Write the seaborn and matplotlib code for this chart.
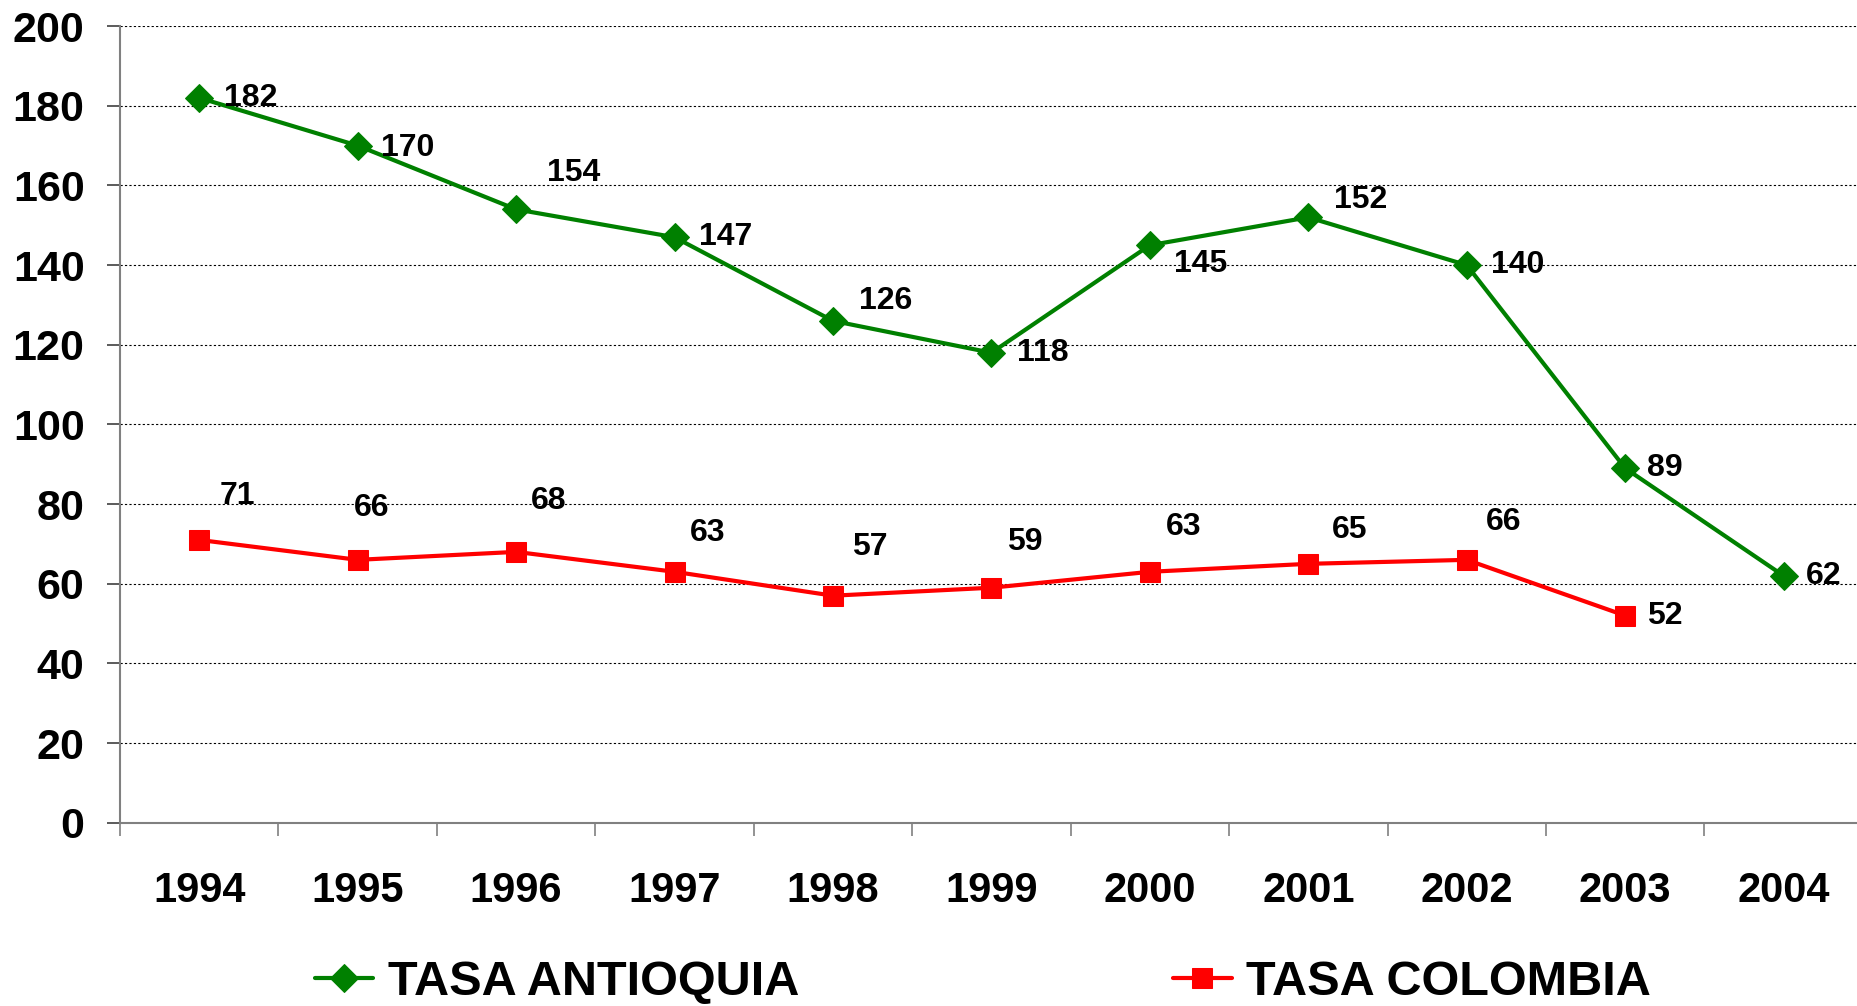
"""Tasa Antioquia vs tasa Colombia, 1994-2004."""

import numpy as np
import pandas as pd
import matplotlib
matplotlib.use('Agg')
import matplotlib.pyplot as plt
import seaborn as sns

years = ['1994', '1995', '1996', '1997', '1998', '1999', '2000', '2001', '2002', '2003', '2004']
tasa_antioquia = [182, 170, 154, 147, 126, 118, 145, 152, 140, 89, 62]
tasa_colombia = [71, 66, 68, 63, 57, 59, 63, 65, 66, 52]

# label offsets (pixels)
off_antioquia = [(51, 0), (50, -2), (58, 36), (51, 0), (53, 20), (51, 0),
                 (51, -19), (52, 17), (51, 0), (40, 0), (40, 0)]
off_colombia = [(38, 44), (14, 52), (33, 51), (33, 39), (37, 49), (33, 46),
                (34, 45), (41, 34), (37, 38), (40, 0)]


def main():
   sns.set_style('white')
   plt.rcParams['font.family'] = ['Liberation Sans', 'DejaVu Sans']
   plt.rcParams['font.weight'] = 'bold'
   plt.rcParams['text.color'] = 'black'
   plt.rcParams['xtick.labelcolor'] = 'black'
   plt.rcParams['ytick.labelcolor'] = 'black'

   fig = plt.figure(figsize=(18.58, 10.06), dpi=100)
   ax = fig.add_axes([0.0646, 0.1822, 0.938, 0.7918])

   df_a = pd.DataFrame({'x': np.arange(len(tasa_antioquia)), 'y': tasa_antioquia})
   df_c = pd.DataFrame({'x': np.arange(len(tasa_colombia)), 'y': tasa_colombia})

   sns.lineplot(data=df_a, x='x', y='y', ax=ax, color='#008000', lw=3,
                marker='D', markersize=14, markeredgecolor='#008000',
                label='TASA ANTIOQUIA')
   sns.lineplot(data=df_c, x='x', y='y', ax=ax, color='#FF0000', lw=3,
                marker='s', markersize=14, markeredgecolor='#FF0000',
                label='TASA COLOMBIA')

   for vals, offs in [(tasa_antioquia, off_antioquia), (tasa_colombia, off_colombia)]:
      for i, (v, o) in enumerate(zip(vals, offs)):
         ax.annotate(str(v), (i, v), xytext=o, textcoords='offset pixels',
                     ha='center', va='center', fontsize=23, fontweight='bold',
                     color='black')

   ax.set_xlim(-0.5, len(years) - 0.5)
   ax.set_ylim(0, 200)
   ax.set_yticks(range(0, 201, 20))
   ax.set_xticks(range(len(years)))
   ax.set_xticklabels(years)
   ax.set_xticks(np.arange(-0.5, len(years), 1), minor=True)
   ax.tick_params(axis='x', which='major', length=0, pad=34.5, labelsize=30)
   ax.tick_params(axis='x', which='minor', length=9.5, width=1.2,
                  color='#808080', direction='out', bottom=True)
   ax.tick_params(axis='y', length=9.5, width=1.2, color='#404040',
                  direction='out', left=True, pad=16, labelsize=31)
   for lab in ax.get_xticklabels() + ax.get_yticklabels():
      lab.set_fontweight('bold')

   ax.grid(axis='y', color='black', linestyle=(0, (2, 2)), lw=0.8)
   ax.grid(axis='x', visible=False)
   ax.set_xlabel('')
   ax.set_ylabel('')
   sns.despine(ax=ax)
   for s in ['left', 'bottom']:
      ax.spines[s].set_color('#808080')
      ax.spines[s].set_linewidth(1.5)

   handles, labels = ax.get_legend_handles_labels()
   ax.get_legend().remove()
   fig.legend(handles, labels, loc='center', bbox_to_anchor=(0.529, 0.023),
              ncol=2, frameon=False, columnspacing=7.7, handlelength=1.2,
              handletextpad=0.3, borderpad=0.1,
              prop={'size': 35, 'weight': 'bold'})

   fig.savefig('out.png', dpi=100)


if __name__ == '__main__':
   main()
